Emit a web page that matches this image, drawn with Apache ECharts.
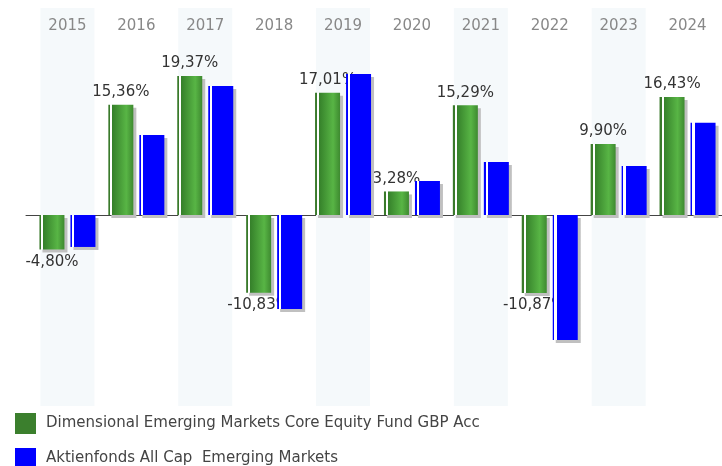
<!DOCTYPE html>
<html>
<head>
<meta charset="utf-8">
<script src="https://cdn.jsdelivr.net/npm/echarts@6/dist/echarts.min.js"></script>
<style>
html,body{margin:0;padding:0;background:#fff;}
#chart{width:722px;height:466px;}
</style>
</head>
<body>
<div id="chart"></div>
<script>
var categories = ['2015','2016','2017','2018','2019','2020','2021','2022','2023','2024'];
var seriesNames = ['Dimensional Emerging Markets Core Equity Fund GBP Acc', 'Aktienfonds All Cap  Emerging Markets'];
var fundValues = [-4.80, 15.36, 19.37, -10.83, 17.01, 3.28, 15.29, -10.87, 9.90, 16.43];
var benchValues = [-4.45, 11.14, 17.97, -13.10, 19.64, 4.74, 7.38, -17.40, 6.82, 12.86];
var yMin = -26.6, yMax = 28.83;

var chart = echarts.init(document.getElementById('chart'), null, {renderer:'canvas'});
var FONT = 'DejaVu Sans';

var greenGrad = new echarts.graphic.LinearGradient(0,0,1,0,[
  {offset:0, color:'#3a7a2b'},{offset:0.08, color:'#3a7a2b'},
  {offset:0.08, color:'#ffffff'},{offset:0.16, color:'#ffffff'},
  {offset:0.16, color:'#35802a'},{offset:0.72, color:'#58b545'},{offset:1, color:'#3e8a30'}
]);
var blueGrad = new echarts.graphic.LinearGradient(0,0,1,0,[
  {offset:0, color:'#0000ff'},{offset:0.07, color:'#0000ff'},
  {offset:0.07, color:'#ffffff'},{offset:0.16, color:'#ffffff'},
  {offset:0.16, color:'#0000ff'},{offset:1, color:'#0000ff'}
]);
var shadow = {shadowColor:'#c0c0c0', shadowBlur:0, shadowOffsetX:3, shadowOffsetY:3};

function fmt(v){ return v.toFixed(2).replace('.', ',') + '%'; }

var fundData = fundValues.map(function(v){
  return {value:v, label:{position: v < 0 ? 'bottom' : 'top'}};
});
var bandTop = categories.map(function(c,i){ return i % 2 === 0 ? yMax : '-'; });
var bandBot = categories.map(function(c,i){ return i % 2 === 0 ? yMin : '-'; });

var gTop = 8, gBottom = 60;
chart.setOption({
  animation:false,
  backgroundColor:'#ffffff',
  grid:[
    {left:33, right:-1, top:gTop, bottom:gBottom},
    {left:26, right:0, top:gTop, bottom:gBottom}
  ],
  xAxis:[
    {type:'category', data:categories, gridIndex:0, position:'top',
     axisLine:{show:false}, axisTick:{show:false}, splitLine:{show:false},
     axisLabel:{inside:true, margin:11, color:'#888888', fontSize:15, fontFamily:FONT}},
    {type:'category', data:categories, gridIndex:0, show:false},
    {type:'value', gridIndex:1, min:0, max:1, axisLabel:{show:false}, axisTick:{show:false}, splitLine:{show:false},
     axisLine:{show:true, onZero:true, lineStyle:{color:'#444444', width:1}}}
  ],
  yAxis:[
    {type:'value', gridIndex:0, min:yMin, max:yMax, show:false, splitLine:{show:false}},
    {type:'value', gridIndex:1, min:yMin, max:yMax, show:false, splitLine:{show:false}}
  ],
  legend:{
    orient:'vertical', left:15, top:413, height:120, width:700, padding:0,
    itemWidth:21, itemHeight:21, itemGap:14,
    icon:'rect',
    textStyle:{color:'#444444', fontSize:15, fontFamily:FONT, padding:[0,0,0,5]},
    data:[
      {name:seriesNames[0], itemStyle:{color:'#3b7f2d', shadowBlur:0, shadowOffsetX:0, shadowOffsetY:0, shadowColor:'transparent'}},
      {name:seriesNames[1], itemStyle:{color:'#0000ff', shadowBlur:0, shadowOffsetX:0, shadowOffsetY:0, shadowColor:'transparent'}}
    ]
  },
  series:[
    {type:'bar', xAxisIndex:1, yAxisIndex:0, stack:'band', data:bandTop, barWidth:54, silent:true, z:0,
     itemStyle:{color:'#f5f9fb'}},
    {type:'bar', xAxisIndex:1, yAxisIndex:0, stack:'band', data:bandBot, barWidth:54, silent:true, z:0,
     itemStyle:{color:'#f5f9fb'}},
    {type:'bar', name:seriesNames[0], xAxisIndex:0, yAxisIndex:0, data:fundData, barWidth:25, barGap:'24%', z:2,
     itemStyle:Object.assign({color:greenGrad}, shadow),
     label:{show:true, distance:5, color:'#333333', fontSize:15, fontFamily:FONT,
       formatter:function(p){ return fmt(p.value); }}},
    {type:'bar', name:seriesNames[1], xAxisIndex:0, yAxisIndex:0, data:benchValues, barWidth:25, barGap:'24%', z:3,
     itemStyle:Object.assign({color:blueGrad}, shadow)}
  ]
});
</script>
</body>
</html>
